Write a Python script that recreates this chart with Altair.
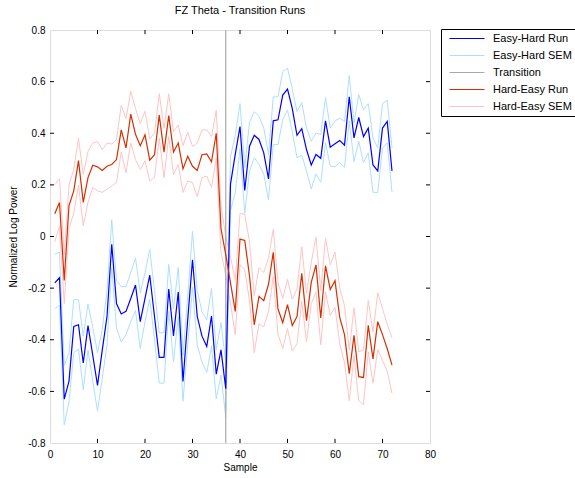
import altair as alt
import pandas as pd

# ---------------- data ----------------
samples = list(range(1, 73))

eh_run = [-0.18, -0.16, -0.63, -0.56, -0.348, -0.342, -0.49, -0.345, -0.46, -0.577,
          -0.44, -0.31, -0.03, -0.26, -0.30, -0.29, -0.24, -0.188, -0.33, -0.24,
          -0.15, -0.31, -0.468, -0.468, -0.204, -0.385, -0.215, -0.562, -0.32, -0.09,
          -0.31, -0.386, -0.426, -0.308, -0.533, -0.439, -0.59,
          0.203, 0.318, 0.426, 0.178, 0.35, 0.392, 0.376, 0.324, 0.223, 0.448,
          0.452, 0.548, 0.571, 0.496, 0.392, 0.418, 0.337, 0.277, 0.318, 0.303,
          0.448, 0.346, 0.359, 0.372, 0.354, 0.541, 0.382, 0.461, 0.387, 0.42,
          0.277, 0.254, 0.42, 0.446, 0.254]

eh_upper = [-0.07, -0.06, -0.50, -0.45, -0.245, -0.245, -0.386, -0.262, -0.35, -0.45,
            -0.36, -0.21, 0.065, -0.172, -0.194, -0.194, -0.14, -0.083, -0.22, -0.14,
            -0.05, -0.21, -0.373, -0.373, -0.108, -0.28, -0.12, -0.46, -0.23, 0.02,
            -0.21, -0.292, -0.323, -0.2, -0.44, -0.333, -0.49,
            0.308, 0.39, 0.515, 0.267, 0.443, 0.484, 0.465, 0.42, 0.318, 0.541,
            0.541, 0.639, 0.652, 0.573, 0.484, 0.519, 0.42, 0.369, 0.401, 0.395,
            0.538, 0.42, 0.448, 0.458, 0.445, 0.624, 0.44, 0.55, 0.49, 0.515,
            0.382, 0.343, 0.515, 0.528, 0.343]

eh_lower = [-0.28, -0.267, -0.73, -0.64, -0.45, -0.436, -0.594, -0.44, -0.56, -0.677,
            -0.55, -0.42, -0.12, -0.355, -0.408, -0.38, -0.33, -0.287, -0.434, -0.33,
            -0.243, -0.40, -0.568, -0.568, -0.29, -0.485, -0.31, -0.638, -0.42, -0.197,
            -0.42, -0.487, -0.527, -0.424, -0.629, -0.537, -0.70,
            0.10, 0.17, 0.34, 0.089, 0.254, 0.305, 0.28, 0.242, 0.142, 0.356,
            0.356, 0.452, 0.49, 0.407, 0.305, 0.315, 0.254, 0.184, 0.242, 0.21,
            0.363, 0.273, 0.27, 0.286, 0.268, 0.448, 0.29, 0.369, 0.286, 0.324,
            0.171, 0.171, 0.343, 0.363, 0.171]

he_run = [0.088, 0.132, -0.17, 0.12, 0.177, 0.294, 0.132, 0.228, 0.276, 0.27,
          0.256, 0.272, 0.279, 0.298, 0.413, 0.343, 0.474, 0.396, 0.352, 0.394,
          0.296, 0.317, 0.47, 0.327, 0.468, 0.327, 0.362, 0.262, 0.311, 0.272,
          0.256, 0.317, 0.32, 0.289, 0.40, 0.03, -0.07, -0.18, -0.29,
          -0.01, -0.015, -0.153, -0.342, -0.232, -0.249, -0.185, -0.061, -0.281, -0.334,
          -0.264, -0.345, -0.31, -0.143, -0.326, -0.178, -0.11, -0.316, -0.114, -0.205,
          -0.171, -0.313, -0.38, -0.531, -0.383, -0.543, -0.546, -0.344, -0.474, -0.33,
          -0.38, -0.435, -0.498]

he_upper = [0.2, 0.224, -0.07, 0.2, 0.26, 0.38, 0.24, 0.33, 0.362, 0.368,
            0.336, 0.362, 0.358, 0.375, 0.508, 0.457, 0.562, 0.496, 0.438, 0.485,
            0.378, 0.40, 0.553, 0.419, 0.553, 0.406, 0.432, 0.352, 0.404, 0.349,
            0.362, 0.413, 0.413, 0.387, 0.489, 0.12, 0.0, -0.08, -0.17,
            0.09, 0.085, -0.02, -0.23, -0.121, -0.14, -0.083, 0.028, -0.179, -0.24,
            -0.166, -0.243, -0.204, -0.04, -0.22, -0.10, -0.002, -0.21, -0.006, -0.11,
            -0.061, -0.2, -0.268, -0.44, -0.276, -0.447, -0.44, -0.248, -0.37, -0.218,
            -0.28, -0.34, -0.392]

he_lower = [-0.02, 0.04, -0.26, 0.03, 0.09, 0.2, 0.041, 0.133, 0.19, 0.177,
            0.171, 0.183, 0.196, 0.209, 0.327, 0.247, 0.362, 0.298, 0.26, 0.294,
            0.215, 0.228, 0.381, 0.228, 0.387, 0.24, 0.279, 0.171, 0.215, 0.209,
            0.154, 0.228, 0.234, 0.19, 0.304, -0.06, -0.15, -0.26, -0.38,
            -0.108, -0.128, -0.25, -0.45, -0.338, -0.35, -0.29, -0.155, -0.38, -0.434,
            -0.357, -0.444, -0.415, -0.25, -0.408, -0.26, -0.214, -0.419, -0.214, -0.306,
            -0.274, -0.415, -0.49, -0.636, -0.46, -0.636, -0.651, -0.447, -0.568, -0.438,
            -0.48, -0.523, -0.607]

transition_sample = [37]

x_ticks = [0, 10, 20, 30, 40, 50, 60, 70, 80]
y_ticks = [-0.8, -0.6, -0.4, -0.2, 0, 0.2, 0.4, 0.6, 0.8]

series_names = ["Easy-Hard Run", "Easy-Hard SEM", "Transition",
                "Hard-Easy Run", "Hard-Easy SEM"]
series_colors = ["#0000FF", "#AEDFFF", "#A8A8A8", "#D62E00", "#FFC4C4"]

# ---------------- tables ----------------
def long_table(values, series, part):
    return pd.DataFrame({"sample": samples, "value": values,
                         "series": series, "part": part})

runs_df = pd.concat([long_table(eh_run, "Easy-Hard Run", "run"),
                     long_table(he_run, "Hard-Easy Run", "run")])
sem_df = pd.concat([long_table(eh_upper, "Easy-Hard SEM", "up"),
                    long_table(eh_lower, "Easy-Hard SEM", "low"),
                    long_table(he_upper, "Hard-Easy SEM", "up"),
                    long_table(he_lower, "Hard-Easy SEM", "low")])
trans_df = pd.DataFrame({"sample": transition_sample, "series": ["Transition"]})

X0, X1 = x_ticks[0], x_ticks[-1]
Y0, Y1 = y_ticks[0], y_ticks[-1]
TX = 0.016 * (Y1 - Y0) / 1.6   # inward tick length (y units)
TY = 0.84 * (X1 - X0) / 80     # inward tick length (x units)
tick_rows = []
for t in x_ticks[1:-1]:
    tick_rows.append({"x": t, "x2": t, "y": Y0, "y2": Y0 + TX})
    tick_rows.append({"x": t, "x2": t, "y": Y1, "y2": Y1 - TX})
for t in y_ticks[1:-1]:
    tick_rows.append({"x": X0, "x2": X0 + TY, "y": t, "y2": t})
    tick_rows.append({"x": X1, "x2": X1 - TY, "y": t, "y2": t})
ticks_df = pd.DataFrame(tick_rows)

FONT = "Liberation Sans"

x_enc = alt.X("sample:Q",
              scale=alt.Scale(domain=[X0, X1], nice=False, zero=False),
              axis=alt.Axis(values=x_ticks, title="Sample", grid=False,
                            ticks=False, domain=False, labelPadding=6,
                            titlePadding=3, labelFlush=False,
                            titleFontWeight="normal", titleFont=FONT,
                            titleFontSize=10))
y_enc = alt.Y("value:Q",
              scale=alt.Scale(domain=[Y0, Y1], nice=False, zero=False),
              axis=alt.Axis(values=y_ticks, title="Normalized Log Power",
                            grid=False, ticks=False, domain=False,
                            labelPadding=5, titlePadding=9, labelFlush=False,
                            titleFontWeight="normal", titleFont=FONT,
                            titleFontSize=10,
                            labelExpr="datum.value == 0 ? '0' : (datum.value < 0 ? '-' + format(-datum.value, '.1f') : format(datum.value, '.1f'))"))

color_enc = alt.Color("series:N",
                      scale=alt.Scale(domain=series_names, range=series_colors),
                      legend=alt.Legend(orient="none", legendX=391, legendY=-1,
                                        title=None, symbolType="stroke",
                                        symbolSize=1225, symbolStrokeWidth=1,
                                        clipHeight=14, rowPadding=3,
                                        labelFont=FONT, labelFontSize=11,
                                        labelColor="black", labelOffset=8,
                                        symbolOffset=5.5, padding=2.5,
                                        strokeColor="black", fillColor="white"))

sem_layer = alt.Chart(sem_df).mark_line(strokeWidth=1).encode(
    x=x_enc, y=y_enc, color=color_enc, detail="part:N")

trans_layer = alt.Chart(trans_df).mark_rule(strokeWidth=1.2).encode(
    x="sample:Q", color=color_enc)

runs_layer = alt.Chart(runs_df).mark_line(strokeWidth=1.2).encode(
    x=x_enc, y=y_enc, color=color_enc, detail="part:N")

ticks_layer = alt.Chart(ticks_df).mark_rule(color="black", strokeWidth=1).encode(
    x="x:Q", x2="x2:Q", y="y:Q", y2="y2:Q")

chart = alt.layer(sem_layer, trans_layer, runs_layer, ticks_layer).properties(
    width=380, height=413,
    padding={"left": 50, "top": 30, "right": 145, "bottom": 35},
    autosize="none",
    title=alt.TitleParams("FZ Theta - Transition Runs", font=FONT, fontSize=11,
                          fontWeight="normal", color="black", offset=9,
                          anchor="middle", frame="group"),
).configure_view(stroke="black", strokeWidth=1).configure_axis(
    labelFont=FONT, labelFontSize=10, labelColor="black",
    titleFont=FONT, titleFontSize=10, titleFontWeight="normal", titleColor="black"
).configure(background="white")

chart.save("out.html", embed_options={"renderer": "svg", "actions": False})
